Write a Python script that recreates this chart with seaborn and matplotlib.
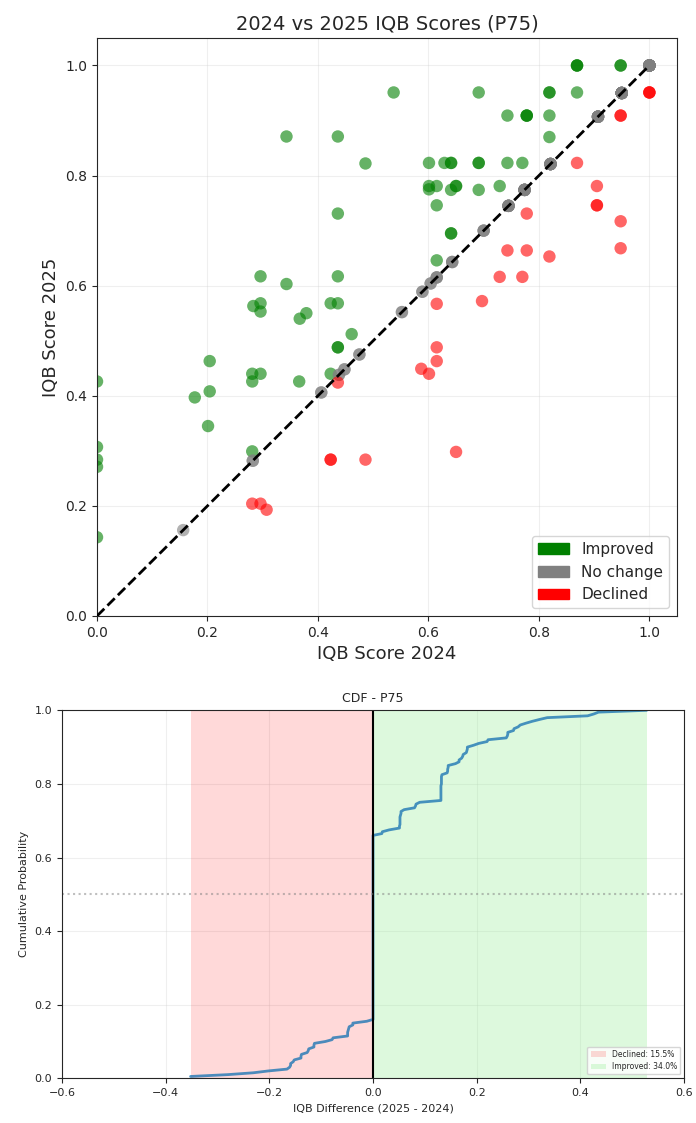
import numpy as np
import pandas as pd
import seaborn as sns
import matplotlib.pyplot as plt
from matplotlib.patches import Patch

sns.set_style('ticks')
plt.rcParams['font.family'] = ['DejaVu Sans']

# points: 2024 score, 2025 score, how many stacked at that spot
# improved
imp_2024 = [0.869, 0.948, 0.537, 0.691, 0.819, 0.869, 0.743, 0.778, 0.819, 0.819,
            0.343, 0.436, 0.486, 0.601, 0.629, 0.641, 0.691, 0.743, 0.770, 0.601,
            0.601, 0.615, 0.641, 0.650, 0.691, 0.729, 0.615, 0.641, 0.615, 0.436,
            0.296, 0.343, 0.436, 0.283, 0.296, 0.296, 0.367, 0.379, 0.423, 0.436,
            0.461, 0.436, 0.0, 0.204, 0.177, 0.204, 0.201, 0.281, 0.281, 0.296,
            0.366, 0.423, 0.0, 0.0, 0.0, 0.0, 0.281]
imp_2025 = [1.0, 1.0, 0.951, 0.951, 0.951, 0.951, 0.909, 0.909, 0.909, 0.870,
            0.871, 0.871, 0.822, 0.823, 0.823, 0.823, 0.823, 0.823, 0.823, 0.781,
            0.775, 0.781, 0.774, 0.781, 0.774, 0.781, 0.746, 0.695, 0.646, 0.731,
            0.617, 0.603, 0.617, 0.563, 0.568, 0.553, 0.540, 0.550, 0.568, 0.568,
            0.512, 0.488, 0.426, 0.463, 0.397, 0.408, 0.345, 0.440, 0.426, 0.440,
            0.426, 0.440, 0.307, 0.284, 0.271, 0.143, 0.299]
imp_n = [3, 2, 1, 1, 2, 1, 1, 3, 1, 1,
         1, 1, 1, 1, 1, 2, 2, 1, 1, 1,
         1, 1, 1, 2, 1, 1, 1, 2, 1, 1,
         1, 1, 1, 1, 1, 1, 1, 1, 1, 1,
         1, 2, 1, 1, 1, 1, 1, 1, 1, 1,
         1, 1, 1, 1, 1, 1, 1]

# no change (same score both years)
same_score = [1.0, 0.95, 0.907, 0.821, 0.774, 0.745, 0.70, 0.643, 0.615, 0.604,
              0.589, 0.552, 0.475, 0.448, 0.438, 0.406, 0.282, 0.156]
same_n = [20, 15, 10, 12, 10, 8, 3, 3, 3, 2,
          2, 2, 2, 2, 2, 2, 2, 1]

# declined
dec_2024 = [1.0, 0.948, 0.869, 0.905, 0.905, 0.948, 0.948, 0.778, 0.743, 0.778,
            0.819, 0.729, 0.770, 0.697, 0.615, 0.615, 0.615, 0.587, 0.601, 0.650,
            0.436, 0.423, 0.486, 0.281, 0.296, 0.307]
dec_2025 = [0.951, 0.909, 0.823, 0.781, 0.746, 0.717, 0.668, 0.731, 0.664, 0.664,
            0.653, 0.616, 0.616, 0.572, 0.567, 0.488, 0.463, 0.449, 0.440, 0.298,
            0.424, 0.284, 0.284, 0.204, 0.204, 0.193]
dec_n = [3, 2, 1, 1, 2, 1, 1, 1, 1, 1,
         1, 1, 1, 1, 1, 1, 1, 1, 1, 1,
         1, 2, 1, 1, 1, 1]

score_2024 = np.concatenate([np.repeat(imp_2024, imp_n), np.repeat(same_score, same_n),
                             np.repeat(dec_2024, dec_n)])
score_2025 = np.concatenate([np.repeat(imp_2025, imp_n), np.repeat(same_score, same_n),
                             np.repeat(dec_2025, dec_n)])

df = pd.DataFrame({"y2024": score_2024, "y2025": score_2025})
df["diff"] = df["y2025"] - df["y2024"]
df["status"] = np.where(df["diff"] > 0, "Improved", np.where(df["diff"] < 0, "Declined", "No change"))

colors = {"Improved": "green", "No change": "gray", "Declined": "red"}

fig = plt.figure(figsize=(6.96, 11.23), dpi=100)

# scatter 2024 vs 2025
ax = fig.add_axes([0.1394, 0.4515, 0.8333, 0.5147])
sns.scatterplot(data=df, x="y2024", y="y2025", hue="status", palette=colors,
                alpha=0.6, s=80, edgecolor="none", legend=False, ax=ax, zorder=2)
ax.plot([0, 1], [0, 1], "k--", lw=2, zorder=3)
ax.set_xlim(0, 1.05)
ax.set_ylim(0, 1.05)
ax.grid(True, alpha=0.3)
ax.set_xlabel("IQB Score 2024", fontsize=13)
ax.set_ylabel("IQB Score 2025", fontsize=13)
ax.set_title("2024 vs 2025 IQB Scores (P75)", fontsize=14)
ax.tick_params(labelsize=10)
handles = [Patch(color=colors[k], label=k) for k in ["Improved", "No change", "Declined"]]
ax.legend(handles=handles, loc="lower right", fontsize=11)

# CDF of the difference
ax2 = fig.add_axes([0.0891, 0.0398, 0.8937, 0.3277])
d = np.sort(df["diff"].values)
cdf = np.arange(1, len(d) + 1) / len(d)
pct_dec = (df["diff"] < 0).mean() * 100
pct_imp = (df["diff"] > 0).mean() * 100
ax2.axvspan(d.min(), 0, color="red", alpha=0.15, lw=0, label=f"Declined: {pct_dec:.1f}%")
ax2.axvspan(0, d.max(), color="lightgreen", alpha=0.3, lw=0, label=f"Improved: {pct_imp:.1f}%")
sns.lineplot(x=d, y=cdf, estimator=None, sort=False, color="C0", lw=2, alpha=0.8, ax=ax2)
ax2.axvline(0, color="black", lw=1.5)
ax2.axhline(0.5, color="gray", ls=":", alpha=0.5)
ax2.set_xlim(-0.6, 0.6)
ax2.set_ylim(0, 1)
ax2.grid(True, alpha=0.3)
ax2.set_xlabel("IQB Difference (2025 - 2024)", fontsize=8)
ax2.set_ylabel("Cumulative Probability", fontsize=8)
ax2.set_title("CDF - P75", fontsize=9)
ax2.tick_params(labelsize=8)
ax2.legend(loc="lower right", fontsize=5.5)

plt.savefig("out.png", dpi=100)
plt.close()
